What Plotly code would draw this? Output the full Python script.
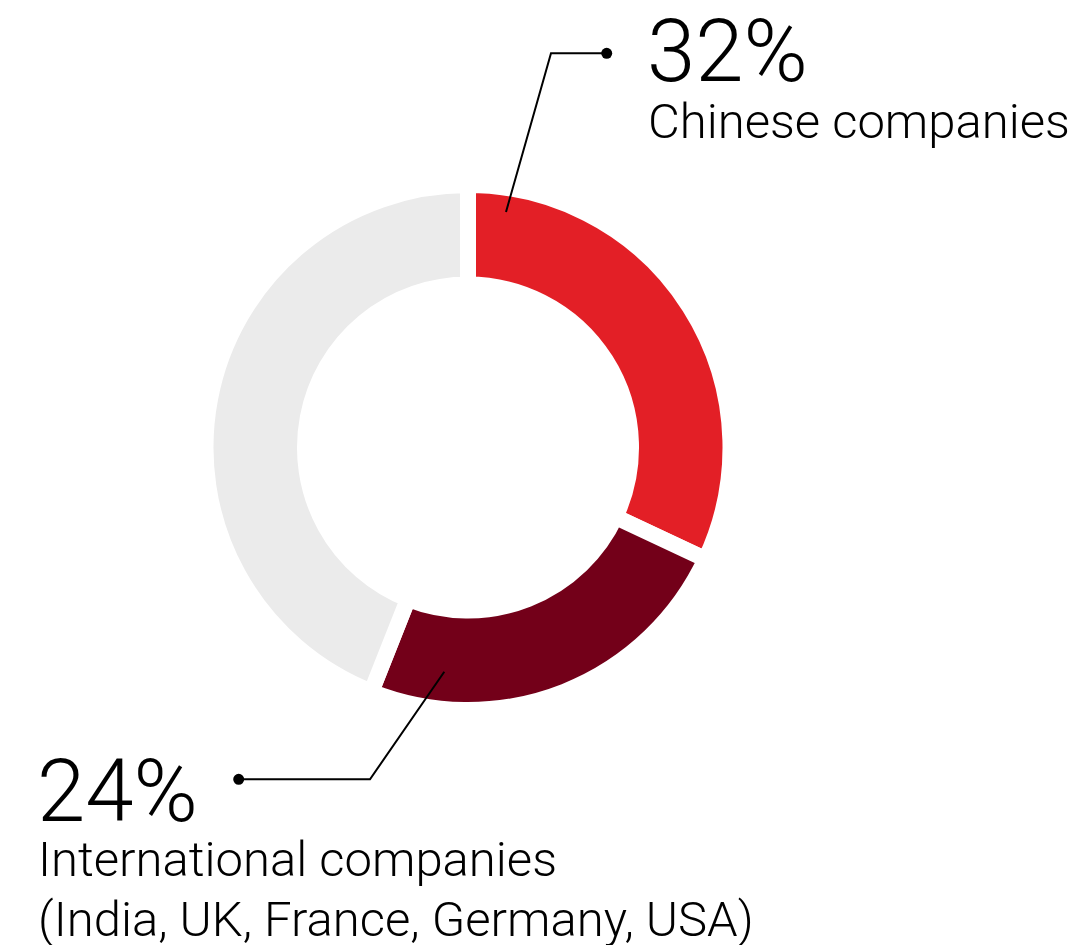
import plotly.graph_objects as go

# Market share by company origin
segments = ["Chinese companies",
            "International companies (India, UK, France, Germany, USA)",
            "Other companies"]
shares = [32, 24, 44]
colors = ["#E31F26", "#730019", "#EBEBEB"]

W, H = 1083, 945


def px(x):
    return x / W


def py(y):
    return 1 - y / H


# donut geometry (pixels): centre and outer radius including the white gap stroke
cx, cy, r_out = 468, 447.5, 262.5
gap = 16

fig = go.Figure(go.Pie(
    labels=segments,
    values=shares,
    sort=False,
    direction="clockwise",
    rotation=0,
    hole=0.621,
    marker=dict(colors=colors, line=dict(color="white", width=gap)),
    textinfo="none",
    hoverinfo="label+percent",
    domain=dict(x=[px(cx - r_out), px(cx + r_out)],
                y=[py(cy + r_out), py(cy - r_out)]),
    showlegend=False,
))

line_style = dict(color="black", width=2)
dot_r = 5.5

# leader lines: from inside the slice, out to a dot beside the label
leaders = [
    [(506, 212), (551, 53.3), (606.7, 53.3)],
    [(444.3, 671.7), (370, 779.3), (238.7, 779.3)],
]
shapes = []
for pts in leaders:
    path = "M " + " L ".join(f"{px(x)},{py(y)}" for x, y in pts)
    shapes.append(dict(type="path", xref="paper", yref="paper",
                       path=path, line=line_style))
    dx, dy = pts[-1]
    shapes.append(dict(type="circle", xref="paper", yref="paper",
                       x0=px(dx - dot_r), x1=px(dx + dot_r),
                       y0=py(dy + dot_r), y1=py(dy - dot_r),
                       fillcolor="black", line=dict(width=0)))

font_family = "Roboto, 'Liberation Sans', sans-serif"
big = dict(family=font_family, size=87, color="black", weight=300)
small = dict(family=font_family, size=49, color="black", weight=300)

annotations = [
    dict(text=f"{shares[0]}%", x=px(645), y=py(51), font=big),
    dict(text=segments[0], x=px(646), y=py(121), font=small),
    dict(text=f"{shares[1]}%", x=px(35), y=py(790.5), font=big),
    dict(text="International companies", x=px(36), y=py(859.7), font=small),
    dict(text="(India, UK, France, Germany, USA)", x=px(36), y=py(919), font=small),
]
for a in annotations:
    a.update(xref="paper", yref="paper", xanchor="left", yanchor="middle",
             showarrow=False)

fig.update_layout(
    width=W, height=H,
    margin=dict(l=0, r=0, t=0, b=0),
    paper_bgcolor="white",
    plot_bgcolor="white",
    shapes=shapes,
    annotations=annotations,
)

fig.write_html("out.html")
